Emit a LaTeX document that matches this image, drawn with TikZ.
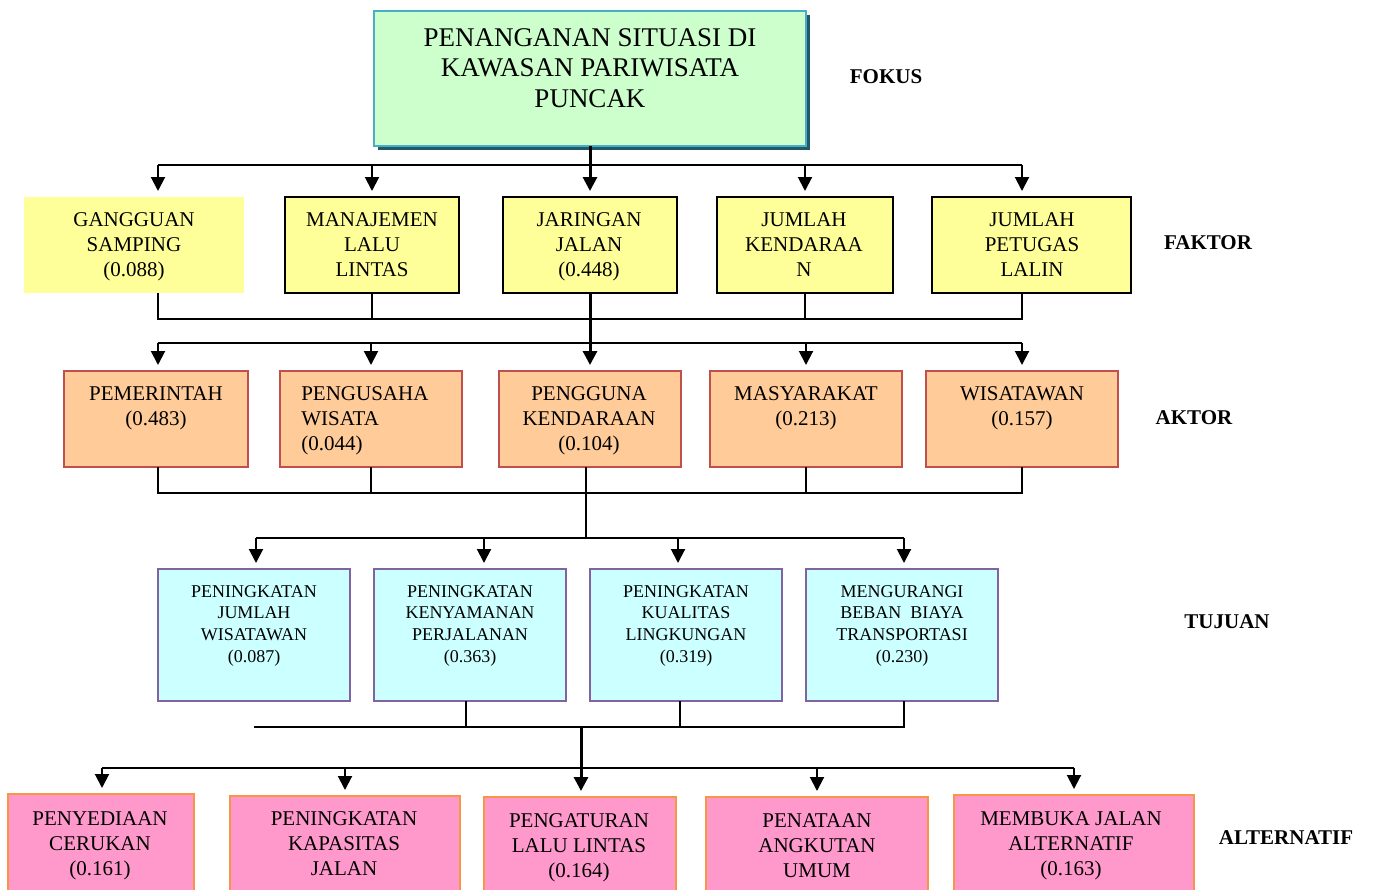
\documentclass[tikz,border=0pt]{standalone}
\usepackage{fontspec}
\setmainfont{Liberation Serif}
\usetikzlibrary{arrows.meta,shadows}
\definecolor{topfill}{HTML}{CCFFCC}
\definecolor{topdraw}{HTML}{4BACC6}
\definecolor{topshadow}{HTML}{215968}
\definecolor{faktorfill}{HTML}{FFFF99}
\definecolor{aktorfill}{HTML}{FFCC99}
\definecolor{aktordraw}{HTML}{C0504D}
\definecolor{tujuanfill}{HTML}{CCFFFF}
\definecolor{tujuandraw}{HTML}{8064A2}
\definecolor{altfill}{HTML}{FF99CC}
\definecolor{altdraw}{HTML}{F79646}
\newcommand\mybox[6]{\node[#2, minimum width={(#5-#3)*0.75pt}, minimum height={(#6-#4)*0.75pt}] (#1) at ({(#3+#5)/2},{(#4+#6)/2}) {};}
\tikzset{
  boxbase/.style={rectangle, inner sep=0pt, outer sep=0pt},
  topbox/.style={boxbase, fill=topfill, draw=topdraw, line width=2pt,
    drop shadow={shadow xshift=3pt, shadow yshift=-3pt, fill=topshadow, opacity=1}},
  faktorbox/.style={boxbase, fill=faktorfill, draw=black, line width=2.2pt},
  faktorplain/.style={boxbase, fill=faktorfill},
  aktorbox/.style={boxbase, fill=aktorfill, draw=aktordraw, line width=1.8pt},
  tujuanbox/.style={boxbase, fill=tujuanfill, draw=tujuandraw, line width=1.8pt},
  altbox/.style={boxbase, fill=altfill, draw=altdraw, line width=1.8pt},
  conn/.style={line width=1.5pt, draw=black},
  boldline/.style={line width=2.25pt},
  arr/.style={conn, -{Triangle[width=10.5pt,length=10.5pt]}, shorten >=4.5pt},
  lab/.style={font=\fontsize{15.75pt}{18.75pt}\selectfont, inner sep=0pt, anchor=north, align=center},
  toptxt/.style={font=\fontsize{20.25pt}{22.9pt}\selectfont, inner sep=0pt, anchor=north, align=center},
  tujtxt/.style={font=\fontsize{13.5pt}{16.3pt}\selectfont, inner sep=0pt, anchor=north, align=center},
  level/.style={font=\fontsize{15.75pt}{18.75pt}\selectfont\bfseries, inner sep=0pt}
}
\begin{document}
\begin{tikzpicture}[x=0.75pt,y=-0.75pt]
\useasboundingbox (0,0) rectangle (1374,889);
% boxes
\mybox{top}{topbox}{374}{11}{806}{146}
\mybox{f1}{faktorplain}{24}{197}{244}{293}
\mybox{f2}{faktorbox}{285}{197}{459}{293}
\mybox{f3}{faktorbox}{503}{197}{677}{293}
\mybox{f4}{faktorbox}{717}{197}{893}{293}
\mybox{f5}{faktorbox}{932}{197}{1131}{293}
\mybox{a1}{aktorbox}{64}{371}{248}{467}
\mybox{a2}{aktorbox}{280}{371}{462}{467}
\mybox{a3}{aktorbox}{499}{371}{681}{467}
\mybox{a4}{aktorbox}{710}{371}{902}{467}
\mybox{a5}{aktorbox}{926}{371}{1118}{467}
\mybox{t1}{tujuanbox}{158}{569}{350}{701}
\mybox{t2}{tujuanbox}{374}{569}{566}{701}
\mybox{t3}{tujuanbox}{590}{569}{782}{701}
\mybox{t4}{tujuanbox}{806}{569}{998}{701}
\mybox{l1}{altbox}{8}{794}{194}{905}
\mybox{l2}{altbox}{230}{796}{460}{905}
\mybox{l3}{altbox}{484}{797}{676}{905}
\mybox{l4}{altbox}{706}{797}{928}{905}
\mybox{l5}{altbox}{954}{795}{1194}{905}
% texts
\node[toptxt] (txtop) at (590,28) {PENANGANAN SITUASI DI\\KAWASAN PARIWISATA\\PUNCAK};
\node[lab] (txf1) at (134,212) {GANGGUAN\\SAMPING\\(0.088)};
\node[lab] (txf2) at (372,212) {MANAJEMEN\\LALU\\LINTAS};
\node[lab] (txf3) at (589,212) {JARINGAN\\JALAN\\(0.448)};
\node[lab] (txf4) at (804,212) {JUMLAH\\KENDARAA\\N};
\node[lab] (txf5) at (1032,212) {JUMLAH\\PETUGAS\\LALIN};
\node[lab] (txa1) at (156,386) {PEMERINTAH\\(0.483)};
\node[lab, anchor=north west, align=left] (txa2) at (301,386) {PENGUSAHA\\WISATA\\(0.044)};
\node[lab] (txa3) at (589,386) {PENGGUNA\\KENDARAAN\\(0.104)};
\node[lab] (txa4) at (806,386) {MASYARAKAT\\(0.213)};
\node[lab] (txa5) at (1022,386) {WISATAWAN\\(0.157)};
\node[tujtxt] (txt1) at (254,585) {PENINGKATAN\\JUMLAH\\WISATAWAN\\(0.087)};
\node[tujtxt] (txt2) at (470,585) {PENINGKATAN\\KENYAMANAN\\PERJALANAN\\(0.363)};
\node[tujtxt] (txt3) at (686,585) {PENINGKATAN\\KUALITAS\\LINGKUNGAN\\(0.319)};
\node[tujtxt] (txt4) at (902,585) {MENGURANGI\\BEBAN\ \ BIAYA\\TRANSPORTASI\\(0.230)};
\node[lab] (txl1) at (100,811) {PENYEDIAAN\\CERUKAN\\(0.161)};
\node[lab] (txl2) at (344,811) {PENINGKATAN\\KAPASITAS\\JALAN};
\node[lab] (txl3) at (579,813) {PENGATURAN\\LALU LINTAS\\(0.164)};
\node[lab] (txl4) at (817,813) {PENATAAN\\ANGKUTAN\\UMUM};
\node[lab] (txl5) at (1071,811) {MEMBUKA JALAN\\ALTERNATIF\\(0.163)};
% level labels
\node[level] (lvfokus) at (886,77) {FOKUS};
\node[level] (lvfaktor) at (1208,243) {FAKTOR};
\node[level] (lvaktor) at (1194,418) {AKTOR};
\node[level] (lvtujuan) at (1227,622) {TUJUAN};
\node[level] (lvalt) at (1286,838) {ALTERNATIF};
% connectors: fokus -> faktor
\coordinate (b1L) at (158,165); \coordinate (b1R) at (1022,165);
\draw[conn] (b1L) -- (b1R);
\draw[arr] (b1L) -- (b1L |- f1.north);
\draw[arr] (f2.north |- b1L) -- (f2.north);
\draw[arr,boldline] (top.south) -- (top.south |- f3.north);
\draw[arr] (f4.north |- b1L) -- (f4.north);
\draw[arr] (b1R) -- (b1R |- f5.north);
% faktor -> aktor
\coordinate (b2L) at (158,319); \coordinate (b2R) at (1022,319);
\draw[conn] (b2L |- f1.south) -- (b2L) -- (b2R) -- (b2R |- f5.south);
\draw[conn] (f2.south) -- (f2.south |- b2L);
\draw[conn] (f4.south) -- (f4.south |- b2L);
\draw[arr,boldline] (f3.south) -- (f3.south |- a3.north);
\coordinate (b3L) at (158,343); \coordinate (b3R) at (1022,343);
\draw[conn] (b3L) -- (b3R);
\draw[arr] (b3L) -- (b3L |- a1.north);
\draw[arr] (a2.north |- b3L) -- (a2.north);
\draw[arr] (a4.north |- b3L) -- (a4.north);
\draw[arr] (b3R) -- (b3R |- a5.north);
% aktor -> tujuan
\coordinate (b4L) at (158,493); \coordinate (b4R) at (1022,493);
\draw[conn] (b4L |- a1.south) -- (b4L) -- (b4R) -- (b4R |- a5.south);
\draw[conn] (a2.south) -- (a2.south |- b4L);
\draw[conn] (a4.south) -- (a4.south |- b4L);
\coordinate (b5L) at (256,538); \coordinate (b5R) at (904,538);
\coordinate (t2a) at (484,538); \coordinate (t3a) at (678,538);
\coordinate (c4) at (586,493);
\draw[conn] (c4 |- a3.south) -- (c4 |- b5L);
\draw[conn] (b5L) -- (b5R);
\draw[arr] (b5L) -- (b5L |- t1.north);
\draw[arr] (t2a) -- (t2a |- t2.north);
\draw[arr] (t3a) -- (t3a |- t3.north);
\draw[arr] (b5R) -- (b5R |- t4.north);
% tujuan -> alternatif
\coordinate (b6L) at (254,727); \coordinate (b6R) at (904,727);
\coordinate (t2b) at (466,727); \coordinate (t3b) at (680,727);
\draw[conn] (b6L) -- (b6R) -- (b6R |- t4.south);
\draw[conn] (t2b |- t2.south) -- (t2b);
\draw[conn] (t3b |- t3.south) -- (t3b);
\coordinate (c6) at (581,727);
\coordinate (b7L) at (102,768); \coordinate (b7R) at (1074,768);
\draw[conn] (b7L) -- (b7R);
\draw[arr,boldline] (c6) -- (c6 |- l3.north);
\draw[arr] (b7L) -- (b7L |- l1.north);
\draw[arr] (l2.north |- b7L) -- (l2.north);
\draw[arr] (l4.north |- b7L) -- (l4.north);
\draw[arr] (b7R) -- (b7R |- l5.north);
\end{tikzpicture}
\end{document}
